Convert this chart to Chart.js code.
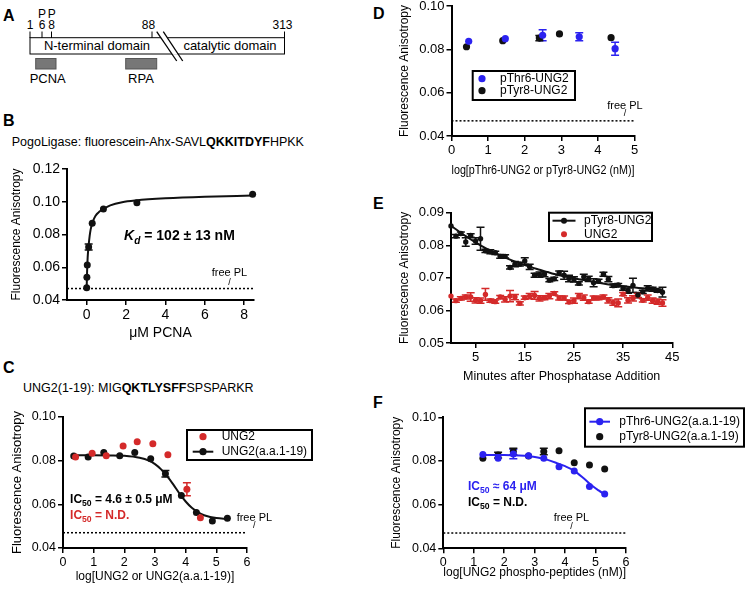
<!DOCTYPE html>
<html>
<head>
<meta charset="utf-8">
<script src="https://cdn.jsdelivr.net/npm/chart.js@4.4.1/dist/chart.umd.min.js"></script>
<style>
    html, body { margin: 0; padding: 0; background: #fff; }
    body { position: relative; width: 747px; height: 590px; overflow: hidden; font-family: "Liberation Sans", Arial, sans-serif; color: #000; }
    .lab { position: absolute; font-weight: bold; font-size: 16px; line-height: 16px; }
    .ttl { position: absolute; font-size: 12.5px; line-height: 14px; white-space: nowrap; }
    canvas { position: absolute; }
</style>
</head>
<body>

<!-- panel A: domain schematic -->
<svg style="position:absolute;left:0;top:0" width="300" height="92" font-family="Liberation Sans, Arial, sans-serif">
    <text x="42" y="17.7" font-size="12" text-anchor="middle">P</text>
    <text x="51.7" y="17.7" font-size="12" text-anchor="middle">P</text>
    <text x="30" y="29.3" font-size="12" text-anchor="middle">1</text>
    <text x="42" y="29.3" font-size="12" text-anchor="middle">6</text>
    <text x="51.7" y="29.3" font-size="12" text-anchor="middle">8</text>
    <text x="148.5" y="29.3" font-size="12" text-anchor="middle">88</text>
    <text x="282.5" y="29.3" font-size="12" text-anchor="middle">313</text>
    <g stroke="#000" stroke-width="1">
        <line x1="30" y1="31.5" x2="30" y2="38"/>
        <line x1="42" y1="31.5" x2="42" y2="38"/>
        <line x1="51.5" y1="31.5" x2="51.5" y2="38"/>
        <line x1="152" y1="31.5" x2="152" y2="38"/>
        <line x1="284.5" y1="31.5" x2="284.5" y2="38"/>
    </g>
    <rect x="30" y="37.7" width="254.5" height="16.3" fill="none" stroke="#000" stroke-width="1"/>
    <polygon points="160.6,37 167.2,37 178.5,54.7 172.3,54.7" fill="#fff"/>
    <g stroke="#000" stroke-width="1.3">
        <line x1="156.7" y1="31.7" x2="176.7" y2="61"/>
        <line x1="163.3" y1="31.7" x2="182.7" y2="61"/>
    </g>
    <text x="97" y="50" font-size="13" text-anchor="middle">N-terminal domain</text>
    <text x="230" y="50" font-size="13" text-anchor="middle">catalytic domain</text>
    <rect x="35.7" y="58.5" width="20.3" height="10.5" fill="#777" stroke="#555" stroke-width="1"/>
    <rect x="125.7" y="58.5" width="31" height="10.5" fill="#777" stroke="#555" stroke-width="1"/>
    <text x="47.7" y="83.3" font-size="13" text-anchor="middle">PCNA</text>
    <text x="141" y="83.3" font-size="13" text-anchor="middle">RPA</text>
</svg>

<div class="lab" style="left:3px;top:8px">A</div>
<div class="lab" style="left:3px;top:113px">B</div>
<div class="lab" style="left:3px;top:360px">C</div>
<div class="lab" style="left:373px;top:6px">D</div>
<div class="lab" style="left:373px;top:196px">E</div>
<div class="lab" style="left:373px;top:395px">F</div>

<div class="ttl" style="left:11.7px;top:134.7px">PogoLigase: fluorescein-Ahx-SAVL<b>QKKITDYF</b>HPKK</div>
<div class="ttl" style="left:23px;top:381px">UNG2(1-19): MIG<b>QKTLYSFF</b>SPSPARKR</div>

<canvas id="chartB"></canvas>
<canvas id="chartC"></canvas>
<canvas id="chartD"></canvas>
<canvas id="chartE"></canvas>
<canvas id="chartF"></canvas>

<script>
const FONT = '"Liberation Sans", Arial, sans-serif';
const BLACK = '#111111';
const RED = '#d42a2a';
const BLUE = '#2b22f0';

// free probe baseline (dotted line in B, C, D, F)
const freePL = 0.047;

// B: PCNA titration
const bConc = [0, 0.01, 0.03, 0.1, 0.28, 0.85, 2.55, 8.43];
const bAniso = [0.0475, 0.0539, 0.0614, 0.0724, 0.0868, 0.0956, 0.0994, 0.1046];
const bErr = [0, 0, 0, 0.0018, 0, 0, 0, 0];
const bFitX = [0, 0.02, 0.05, 0.1, 0.15, 0.2, 0.3, 0.45, 0.65, 0.9, 1.2, 1.8, 2.5, 4, 6, 8.43];
const bFitY = [0.0475, 0.057, 0.066, 0.0735, 0.079, 0.083, 0.0875, 0.0915, 0.094, 0.096, 0.0978, 0.0997, 0.1008, 0.1021, 0.1031, 0.1038];
const bTicksX = [0, 2, 4, 6, 8];
const bTicksY = [0.04, 0.06, 0.08, 0.10, 0.12];

// C: competition with UNG2 / UNG2(a.a.1-19)
const cPepLog = [0.35, 0.82, 1.33, 1.85, 2.34, 2.86, 3.34, 3.86, 4.35, 4.87, 5.36];
const cPep = [0.0821, 0.0817, 0.0837, 0.0823, 0.0837, 0.0809, 0.0740, 0.0640, 0.0563, 0.0524, 0.0536];
const cPepErr = [0, 0, 0, 0, 0, 0, 0.0015, 0, 0, 0, 0];
const cUngLog = [0.41, 0.95, 1.41, 1.96, 2.42, 2.93, 3.42, 4.04, 4.48];
const cUng = [0.0817, 0.0834, 0.0823, 0.0867, 0.0887, 0.0878, 0.0827, 0.0669, 0.0539];
const cUngErr = [0, 0, 0, 0, 0, 0, 0, 0.003, 0];
const cFitX = [0.35, 1.0, 1.5, 2.0, 2.5, 2.8, 3.0, 3.2, 3.4, 3.6, 3.8, 4.0, 4.2, 4.4, 4.6, 4.8, 5.0, 5.36];
const cFitY = [0.0825, 0.0825, 0.0824, 0.0822, 0.0813, 0.0800, 0.0784, 0.0760, 0.0728, 0.0690, 0.0649, 0.0613, 0.0584, 0.0564, 0.0550, 0.0542, 0.0537, 0.0533];
const cTicksX = [0, 1, 2, 3, 4, 5, 6];
const cTicksY = [0.04, 0.06, 0.08, 0.10];

// D: phospho-UNG2 titration
const dThrLog = [0.47, 1.47, 2.49, 3.49, 4.47];
const dThr = [0.0837, 0.0849, 0.0865, 0.0858, 0.0803];
const dThrErr = [0, 0, 0.0025, 0.0018, 0.003];
const dTyrLog = [0.41, 1.40, 2.40, 2.95, 4.36];
const dTyr = [0.0812, 0.0840, 0.0852, 0.0871, 0.0854];
const dTyrErr = [0, 0, 0.0012, 0, 0];
const dTicksX = [0, 1, 2, 3, 4, 5];
const dTicksY = [0.04, 0.06, 0.08, 0.10];

// E: phosphatase time course
const eMin = [0, 1, 2, 3, 4, 5, 6, 7, 8, 9, 10, 11, 12, 13, 14, 15, 16, 17, 18, 19, 20, 21,
    22, 23, 24, 25, 26, 27, 28, 29, 30, 31, 32, 33, 34, 35, 36, 37, 38, 39, 40, 41, 42, 43];
const eTyr = [0.0859, 0.0828, 0.0836, 0.0810, 0.0830, 0.0813, 0.0820, 0.0783, 0.0780, 0.0777, 0.0766,
    0.0766, 0.0732, 0.0742, 0.0742, 0.0752, 0.0734, 0.0708, 0.0710, 0.0711, 0.0693, 0.0697,
    0.0715, 0.0708, 0.0698, 0.0695, 0.0683, 0.0703, 0.0697, 0.0685, 0.0690, 0.0711, 0.0696,
    0.0676, 0.0678, 0.0668, 0.0661, 0.0677, 0.0647, 0.0657, 0.0668, 0.0665, 0.0661, 0.0656];
const eTyrErr = [0, 0.0005, 0.0005, 0.0013, 0.0005, 0.001, 0.0035, 0.0005, 0.0006, 0.0005, 0.0006,
    0.0005, 0.0005, 0.0008, 0.0006, 0.001, 0.0008, 0.0006, 0.0008, 0.0008, 0.0005, 0.0005,
    0.0006, 0.0012, 0.001, 0.0008, 0.0005, 0.0008, 0.0008, 0.0012, 0.0006, 0.0006, 0.0008,
    0.0005, 0.0005, 0.0006, 0.0008, 0.0022, 0.0008, 0.0005, 0.0008, 0.0006, 0.0005, 0.0015];
const eUng = [0.0644, 0.0630, 0.0637, 0.0641, 0.0641, 0.0631, 0.0630, 0.0649, 0.0630, 0.0627, 0.0641,
    0.0634, 0.0644, 0.0641, 0.0622, 0.0639, 0.0644, 0.0646, 0.0637, 0.0639, 0.0644, 0.0652,
    0.0638, 0.0638, 0.0626, 0.0630, 0.0644, 0.0639, 0.0627, 0.0638, 0.0638, 0.0641, 0.0631,
    0.0624, 0.0623, 0.0650, 0.0631, 0.0637, 0.0646, 0.0631, 0.0639, 0.0630, 0.0627, 0.0623];
const eUngErr = [0, 0.0005, 0.0005, 0.0006, 0.0013, 0.0008, 0.0008, 0.0018, 0.0005, 0.0005, 0.0005,
    0.0008, 0.0017, 0.0008, 0.0005, 0.0005, 0.0008, 0.0012, 0.0008, 0.0006, 0.0008, 0.0005,
    0.0006, 0.0006, 0.0005, 0.0008, 0.0008, 0.0008, 0.0005, 0.0006, 0.0005, 0.0006, 0.0008,
    0.0008, 0.0012, 0.0005, 0.0008, 0.0008, 0.0006, 0.0005, 0.0008, 0.0008, 0.0008, 0.001];
const eFitX = [0, 3, 6, 9, 12, 15, 18, 21, 24, 27, 30, 33, 36, 39, 42, 43];
const eFitY = [0.0860, 0.0828, 0.0800, 0.0776, 0.0756, 0.0739, 0.0725, 0.0712, 0.0702, 0.0693, 0.0685, 0.0678, 0.0673, 0.0668, 0.0664, 0.0662];
const eTicksX = [5, 15, 25, 35, 45];
const eTicksY = [0.05, 0.06, 0.07, 0.08, 0.09];

// F: phospho-peptide competition
const fLog = [1.3, 1.8, 2.3, 2.8, 3.3, 3.8, 4.3, 4.8, 5.3];
const fThr = [0.0830, 0.0812, 0.0832, 0.0824, 0.0812, 0.0774, 0.0754, 0.0683, 0.0649];
const fThrErr = [0, 0, 0.0022, 0, 0, 0, 0, 0, 0];
const fTyr = [0.0812, 0.0827, 0.0843, 0.0823, 0.0843, 0.0847, 0.0792, 0.0782, 0.0763];
const fTyrErr = [0, 0.0013, 0.0015, 0, 0.0015, 0, 0, 0, 0];
const fFitX = [1.3, 2.0, 2.5, 2.8, 3.1, 3.4, 3.7, 4.0, 4.3, 4.6, 4.9, 5.1, 5.3];
const fFitY = [0.0827, 0.0827, 0.0825, 0.0822, 0.0816, 0.0806, 0.0792, 0.0776, 0.0755, 0.0722, 0.0685, 0.0665, 0.0647];
const fTicksX = [0, 1, 2, 3, 4, 5, 6];
const fTicksY = [0.04, 0.06, 0.08, 0.10];

// helpers to build datasets
const pts = (xs, ys) => xs.map((x, i) => ({ x: x, y: ys[i] }));

function dots(xs, ys, errs, color, r) {
    return {
        data: pts(xs, ys), errors: errs, showLine: false, clip: false,
        pointRadius: r, pointBackgroundColor: color, pointBorderColor: color, pointBorderWidth: 0,
        borderColor: color
    };
}

function curve(xs, ys, color) {
    return {
        data: pts(xs, ys), showLine: true, clip: false, pointRadius: 0,
        borderColor: color, borderWidth: 2, cubicInterpolationMode: 'monotone'
    };
}

function baseline(x0, x1) {
    return {
        data: [{ x: x0, y: freePL }, { x: x1, y: freePL }], showLine: true, clip: false,
        pointRadius: 0, borderColor: '#000', borderWidth: 1.5, borderDash: [2, 2]
    };
}

// error bars drawn under the points
const errorBars = {
    id: 'errorBars',
    beforeDatasetsDraw(chart) {
        const ctx = chart.ctx;
        const ys = chart.scales.y;
        chart.data.datasets.forEach((ds, i) => {
            if (!ds.errors) return;
            const meta = chart.getDatasetMeta(i);
            ctx.save();
            ctx.strokeStyle = ds.borderColor;
            ctx.lineWidth = 1.5;
            meta.data.forEach((p, j) => {
                const e = ds.errors[j];
                if (!e) return;
                const v = ds.data[j].y;
                const y1 = ys.getPixelForValue(v + e);
                const y2 = ys.getPixelForValue(v - e);
                const w = ds.cap || 4;
                ctx.beginPath();
                ctx.moveTo(p.x, y1); ctx.lineTo(p.x, y2);
                ctx.moveTo(p.x - w, y1); ctx.lineTo(p.x + w, y1);
                ctx.moveTo(p.x - w, y2); ctx.lineTo(p.x + w, y2);
                ctx.stroke();
            });
            ctx.restore();
        });
    }
};

// text notes placed in data units, with sub/italic runs
const notes = {
    id: 'notes',
    afterDraw(chart, args, opts) {
        const ctx = chart.ctx;
        const { x, y } = chart.scales;
        (opts.items || []).forEach(it => {
            let px = x.getPixelForValue(it.x);
            const py = y.getPixelForValue(it.y);
            const size = it.size || 12;
            ctx.save();
            ctx.fillStyle = it.color || '#000';
            ctx.textBaseline = 'middle';
            ctx.textAlign = 'left';
            const runs = it.parts.map(p => {
                const s = p.sub ? size * 0.72 : size;
                const font = (p.italic ? 'italic ' : '') + (it.bold ? 'bold ' : '') + s + 'px ' + FONT;
                ctx.font = font;
                return { t: p.t, font: font, w: ctx.measureText(p.t).width, dy: p.sub ? size * 0.32 : 0 };
            });
            if (it.align === 'center') px -= runs.reduce((a, r) => a + r.w, 0) / 2;
            runs.forEach(r => {
                ctx.font = r.font;
                ctx.fillText(r.t, px, py + r.dy);
                px += r.w;
            });
            ctx.restore();
        });
    }
};

// boxed legend like the Prism original (canvas pixels)
const boxLegend = {
    id: 'boxLegend',
    afterDraw(chart, args, o) {
        if (!o.box) return;
        const ctx = chart.ctx;
        const [x1, y1, x2, y2] = o.box;
        ctx.save();
        ctx.lineWidth = 2;
        ctx.strokeStyle = '#000';
        ctx.strokeRect(x1, y1, x2 - x1, y2 - y1);
        ctx.font = '12px ' + FONT;
        ctx.textBaseline = 'middle';
        o.items.forEach(it => {
            ctx.strokeStyle = it.color;
            ctx.fillStyle = it.color;
            if (it.line) {
                ctx.lineWidth = 2;
                ctx.beginPath();
                ctx.moveTo(o.markX - o.half, it.y);
                ctx.lineTo(o.markX + o.half, it.y);
                ctx.stroke();
            }
            ctx.beginPath();
            ctx.arc(o.markX, it.y, o.r, 0, Math.PI * 2);
            ctx.fill();
            ctx.fillStyle = '#000';
            ctx.fillText(it.label, o.textX, it.y);
        });
        ctx.restore();
    }
};

function axis(a, size, isX) {
    return {
        type: 'linear', min: a.min, max: a.max,
        afterBuildTicks: s => { s.ticks = a.ticks.map(v => ({ value: v })); },
        afterFit: s => { if (isX) s.height = size; else s.width = size; },
        grid: { drawOnChartArea: false, drawTicks: true, tickLength: 5, color: '#000', lineWidth: 1.5 },
        border: { display: true, color: '#000', width: 2 },
        ticks: {
            color: '#000', padding: 2, autoSkip: false, maxRotation: 0,
            font: { family: FONT, size: a.tickSize },
            callback: v => isX ? String(v) : v.toFixed(2)
        },
        title: { display: true, text: a.title, color: '#000', padding: 0, font: { family: FONT, size: a.titleSize } }
    };
}

function panel(id, g, cfg) {
    const c = document.getElementById(id);
    c.width = g.w;
    c.height = g.h;
    c.style.left = g.x + 'px';
    c.style.top = g.y + 'px';
    return new Chart(c, {
        type: 'scatter',
        data: { datasets: cfg.datasets },
        options: {
            responsive: false, animation: false, devicePixelRatio: 1,
            layout: { padding: g.pad },
            plugins: {
                legend: { display: false },
                tooltip: { enabled: false },
                notes: { items: cfg.notes || [] },
                boxLegend: cfg.legend || {}
            },
            scales: {
                x: axis(cfg.x, g.xh, true),
                y: axis(cfg.y, g.yw, false)
            }
        },
        plugins: [errorBars, notes, boxLegend]
    });
}

const freeNote = (x, y, ys) => [
    { x: x, y: y, size: 11, align: 'center', parts: [{ t: 'free PL' }] },
    { x: x, y: ys, size: 9, align: 'center', parts: [{ t: '/' }] }
];

document.addEventListener('DOMContentLoaded', () => {
    // B
    panel('chartB',
        { x: 0, y: 150, w: 275, h: 200, pad: { left: 9.8, top: 19, right: 21, bottom: 8.6 }, yw: 57.2, xh: 41.4 },
        {
            datasets: [
                dots(bConc, bAniso, bErr, BLACK, 3.5),
                curve(bFitX, bFitY, BLACK),
                baseline(-1, 8.5)
            ],
            x: { min: -1, max: 8.5, ticks: bTicksX, tickSize: 14, title: 'μM PCNA', titleSize: 14 },
            y: { min: 0.04, max: 0.12, ticks: bTicksY, tickSize: 14, title: 'Fluorescence Anisotropy', titleSize: 12 },
            notes: [
                { x: 1.9, y: 0.0787, bold: true, size: 14, parts: [{ t: 'K', italic: true }, { t: 'd', italic: true, sub: true }, { t: ' = 102 ± 13 nM' }] }
            ].concat(freeNote(7.25, 0.0563, 0.0508))
        });

    // C
    panel('chartC',
        { x: 0, y: 400, w: 330, h: 190, pad: { left: 9.2, top: 17, right: 83, bottom: 5.8 }, yw: 53.8, xh: 36.2 },
        {
            datasets: [
                dots(cUngLog, cUng, cUngErr, RED, 3.5),
                dots(cPepLog, cPep, cPepErr, BLACK, 3.5),
                curve(cFitX, cFitY, BLACK),
                baseline(0, 6)
            ],
            x: { min: 0, max: 6, ticks: cTicksX, tickSize: 12.5, title: 'log[UNG2 or UNG2(a.a.1-19)]', titleSize: 12 },
            y: { min: 0.04, max: 0.10, ticks: cTicksY, tickSize: 12.5, title: 'Fluorescence Anisotropy', titleSize: 13 },
            notes: [
                { x: 0.23, y: 0.0620, bold: true, size: 12, parts: [{ t: 'IC' }, { t: '50', sub: true }, { t: ' = 4.6 ± 0.5 μM' }] },
                { x: 0.23, y: 0.0547, bold: true, size: 12, color: RED, parts: [{ t: 'IC' }, { t: '50', sub: true }, { t: ' = N.D.' }] }
            ].concat(freeNote(6.24, 0.0536, 0.0502)),
            legend: {
                box: [187, 30, 312, 60], markX: 203, half: 10.3, r: 3.6, textX: 221.7,
                items: [
                    { label: 'UNG2', color: RED, line: false, y: 36.7 },
                    { label: 'UNG2(a.a.1-19)', color: BLACK, line: true, y: 51.7 }
                ]
            }
        });

    // D
    panel('chartD',
        { x: 395, y: -10, w: 330, h: 200, pad: { left: 2.8, top: 16, right: 90.5, bottom: 12.3 }, yw: 53.7, xh: 41.7 },
        {
            datasets: [
                dots(dThrLog, dThr, dThrErr, BLUE, 3.6),
                dots(dTyrLog, dTyr, dTyrErr, BLACK, 3.6),
                baseline(0, 5)
            ],
            x: { min: 0, max: 5, ticks: dTicksX, tickSize: 13, title: 'log[pThr6-UNG2 or pTyr8-UNG2 (nM)]', titleSize: 12 },
            y: { min: 0.04, max: 0.10, ticks: dTicksY, tickSize: 13, title: 'Fluorescence Anisotropy', titleSize: 12 },
            notes: freeNote(4.74, 0.0539, 0.0502),
            legend: {
                box: [77.7, 81, 180, 110], markX: 87, half: 0, r: 3.6, textX: 105,
                items: [
                    { label: 'pThr6-UNG2', color: BLUE, line: false, y: 88.7 },
                    { label: 'pTyr8-UNG2', color: BLACK, line: false, y: 100.7 }
                ]
            }
        });

    // E
    panel('chartE',
        { x: 395, y: 195, w: 300, h: 200, pad: { left: 2.8, top: 17.7, right: 22.7, bottom: 10.5 }, yw: 53.2, xh: 41.5 },
        {
            datasets: [
                dots(eMin, eTyr, eTyrErr, BLACK, 2.7),
                curve(eFitX, eFitY, BLACK),
                dots(eMin, eUng, eUngErr, RED, 2.7)
            ],
            x: { min: 0, max: 45, ticks: eTicksX, tickSize: 13, title: 'Minutes after Phosphatase Addition', titleSize: 12.5 },
            y: { min: 0.05, max: 0.09, ticks: eTicksY, tickSize: 13, title: 'Fluorescence Anisotropy', titleSize: 12 },
            legend: {
                box: [154, 17.7, 257, 46], markX: 169, half: 11.5, r: 3, textX: 189,
                items: [
                    { label: 'pTyr8-UNG2', color: BLACK, line: true, y: 25.7 },
                    { label: 'UNG2', color: RED, line: false, y: 39.3 }
                ]
            }
        });

    // F
    panel('chartF',
        { x: 385, y: 400, w: 362, h: 190, pad: { left: 4.8, top: 17.3, right: 121, bottom: 9.8 }, yw: 53.5, xh: 31.9 },
        {
            datasets: [
                dots(fLog, fThr, fThrErr, BLUE, 3.5),
                curve(fFitX, fFitY, BLUE),
                dots(fLog, fTyr, fTyrErr, BLACK, 3.5),
                baseline(0, 6)
            ],
            x: { min: 0, max: 6, ticks: fTicksX, tickSize: 12.5, title: 'log[UNG2 phospho-peptides (nM)]', titleSize: 12 },
            y: { min: 0.04, max: 0.10, ticks: fTicksY, tickSize: 12.5, title: 'Fluorescence Anisotropy', titleSize: 12 },
            notes: [
                { x: 0.81, y: 0.0682, bold: true, size: 12, color: BLUE, parts: [{ t: 'IC' }, { t: '50', sub: true }, { t: ' ≈ 64 μM' }] },
                { x: 0.81, y: 0.0607, bold: true, size: 12, parts: [{ t: 'IC' }, { t: '50', sub: true }, { t: ' = N.D.' }] }
            ].concat(freeNote(4.21, 0.0539, 0.0502)),
            legend: {
                box: [200, 8.3, 359, 46.7], markX: 214.7, half: 10.3, r: 3.6, textX: 234.3,
                items: [
                    { label: 'pThr6-UNG2(a.a.1-19)', color: BLUE, line: true, y: 21.7 },
                    { label: 'pTyr8-UNG2(a.a.1-19)', color: BLACK, line: false, y: 36.7 }
                ]
            }
        });
});
</script>
</body>
</html>
